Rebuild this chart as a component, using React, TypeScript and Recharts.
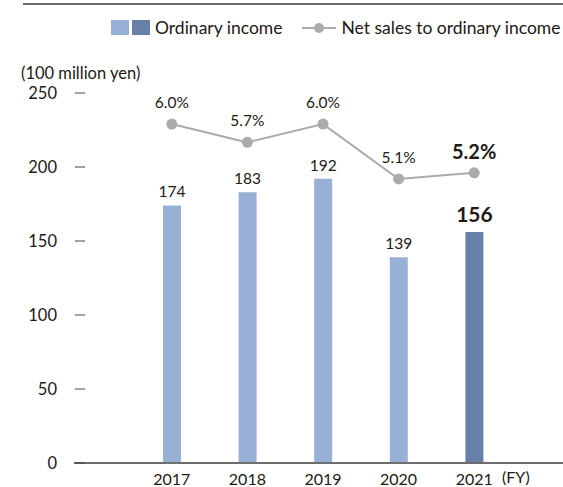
import React from "react";
import {
  ComposedChart,
  Bar,
  Line,
  XAxis,
  YAxis,
  Cell,
  LabelList,
} from "recharts";

const years = ["2017", "2018", "2019", "2020", "2021"];
const ordinaryIncome = [174, 183, 192, 139, 156];
const salesRatio = [6.0, 5.7, 6.0, 5.1, 5.2];
const yTicks = [0, 50, 100, 150, 200, 250];

const data = years.map((year, i) => ({
  year,
  income: ordinaryIncome[i],
  ratio: salesRatio[i],
}));

const FONT = "Lato, 'Open Sans', sans-serif";
const TEXT = "#231815";
const LIGHT = "#98B0D6";
const DARK = "#6680A8";
const GRAY = "#ABABAB";
const last = years.length - 1;

const YTick = (props: any) => {
  const { y, payload } = props;
  return (
    <g>
      <text x={57} y={y} textAnchor="end" dominantBaseline="central" fontSize={16.5} fill={TEXT} fontFamily={FONT}>
        {payload.value}
      </text>
      <line x1={75} x2={85} y1={y} y2={y} stroke="#444" strokeWidth={1} />
    </g>
  );
};

// baseline placed directly so the glyphs stay inside the 487px frame
const XTick = (props: any) => {
  const { x, payload } = props;
  return (
    <text x={x} y={485} textAnchor="middle" fontSize={16} fill={TEXT} fontFamily={FONT}>
      {payload.value}
    </text>
  );
};

const BarLabel = (props: any) => {
  const { x, y, width, index, value } = props;
  const big = index === last;
  return (
    <text
      x={x + width / 2}
      y={y - (big ? 19 : 14)}
      textAnchor="middle"
      dominantBaseline="central"
      fontSize={big ? 21 : 15.5}
      fontWeight={big ? 700 : 400}
      fill={TEXT}
      fontFamily={FONT}
    >
      {value}
    </text>
  );
};

const LineLabel = (props: any) => {
  const { x, y, index, value } = props;
  const big = index === last;
  return (
    <text
      x={x}
      y={y - 22}
      textAnchor="middle"
      dominantBaseline="central"
      fontSize={big ? 20 : 15.5}
      fontWeight={big ? 700 : 400}
      fill={TEXT}
      fontFamily={FONT}
    >
      {Number(value).toFixed(1)}%
    </text>
  );
};

const LegendBox = () => (
  <div
    style={{
      position: "absolute",
      top: 17,
      left: 111,
      display: "flex",
      alignItems: "center",
      fontFamily: FONT,
      fontSize: 17.5,
      color: TEXT,
      whiteSpace: "nowrap",
    }}
  >
    <span style={{ width: 18, height: 15, background: LIGHT, display: "inline-block" }} />
    <span style={{ width: 18, height: 15, background: DARK, display: "inline-block", marginLeft: 3 }} />
    <span style={{ marginLeft: 5 }}>Ordinary income</span>
    <svg width={34} height={12} style={{ marginLeft: 19 }}>
      <line x1={0} x2={34} y1={6} y2={6} stroke={GRAY} strokeWidth={2} />
      <circle cx={17} cy={6} r={5} fill={GRAY} />
    </svg>
    <span style={{ marginLeft: 6 }}>Net sales to ordinary income</span>
  </div>
);

const App = () => {
  return (
    <div style={{ position: "absolute", left: 0, top: 0, width: 563, height: 487, background: "#fff", overflow: "hidden" }}>
      <div style={{ position: "absolute", left: 23, right: 0, top: 3, height: 2, background: "#6d6d6d" }} />
      <LegendBox />
      <div style={{ position: "absolute", left: 21, top: 63, fontFamily: FONT, fontSize: 16.5, color: TEXT }}>
        (100 million yen)
      </div>
      <div style={{ position: "absolute", left: 502, top: 469, fontFamily: FONT, fontSize: 16, lineHeight: "16px", color: TEXT }}>
        (FY)
      </div>
      <ComposedChart
        width={563}
        height={487}
        data={data}
        margin={{ top: 93, right: 0, left: 0, bottom: 0 }}
        style={{ position: "absolute", left: 0, top: 0 }}
      >
        <XAxis
          dataKey="year"
          height={24}
          padding={{ left: 60, right: 51 }}
          axisLine={{ stroke: "#6d6d6d", strokeWidth: 2 }}
          tickLine={false}
          tick={<XTick />}
          interval={0}
        />
        <YAxis
          yAxisId="left"
          width={74}
          domain={[0, 250]}
          ticks={yTicks}
          axisLine={false}
          tickLine={false}
          tick={<YTick />}
          interval={0}
        />
        <YAxis yAxisId="right" orientation="right" hide domain={[0.44, 6.51]} />
        <Bar yAxisId="left" dataKey="income" barSize={18} isAnimationActive={false}>
          {data.map((d, i) => (
            <Cell key={d.year} fill={i === last ? DARK : LIGHT} />
          ))}
          <LabelList dataKey="income" content={<BarLabel />} />
        </Bar>
        <Line
          yAxisId="right"
          dataKey="ratio"
          stroke={GRAY}
          strokeWidth={2}
          dot={{ r: 5.5, fill: GRAY, stroke: "none" }}
          activeDot={false}
          isAnimationActive={false}
        >
          <LabelList dataKey="ratio" content={<LineLabel />} />
        </Line>
      </ComposedChart>
    </div>
  );
};

export default App;
